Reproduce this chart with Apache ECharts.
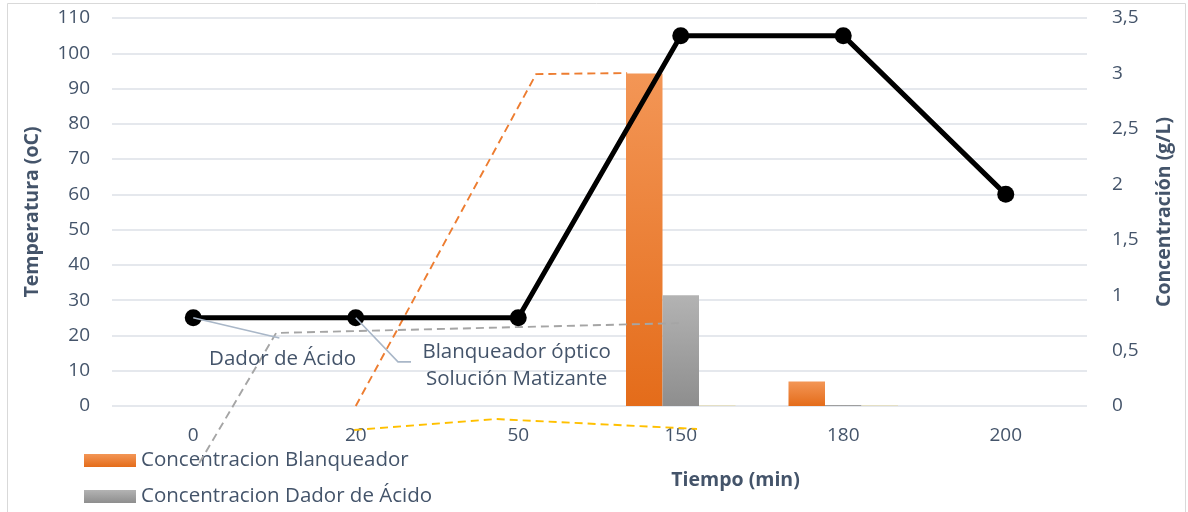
<!DOCTYPE html>
<html>
<head>
<meta charset="utf-8">
<script src="https://cdn.jsdelivr.net/npm/echarts@6/dist/echarts.min.js"></script>
<style>
  html, body { margin: 0; padding: 0; background: #fff; }
  #chart { width: 1188px; height: 512px; }
</style>
</head>
<body>
<div id="chart"></div>
<script>
// Process time (min) on the category axis
const categories = ['0', '20', '50', '150', '180', '200'];
// Bath temperature (oC), left axis
const temperature = [25, 25, 25, 105, 105, 60];
// Chemical concentrations (g/L), right axis
const blanqueador = [0, 0, 0, 3, 0.22, 0];
const dadorAcido = [0, 0, 0, 1, 0.01, 0];
const matizante = [0, 0, 0, 0.01, 0.01, 0];
// Axis tick settings
const tempTicks = { min: 0, max: 110, interval: 10 };
const concTicks = { min: 0, max: 3.5, interval: 0.5 };

const TEXT = '#44546A';
const FONT = 'Open Sans';

const chart = echarts.init(document.getElementById('chart'));

const grad = (top, bottom) => new echarts.graphic.LinearGradient(0, 0, 0, 1, [
  { offset: 0, color: top }, { offset: 1, color: bottom }
]);

// One legend block per row, stacked in the bottom-left corner
const legendRow = (name, top) => ({
  data: [name],
  left: 79,
  top,
  icon: 'rect',
  itemWidth: 52,
  itemHeight: 13,
  itemTextGap: 5,
  textStyle: { color: TEXT, fontSize: 20.5, fontFamily: FONT }
});

chart.setOption({
  animation: false,
  textStyle: { fontFamily: FONT },
  grid: { left: 112, right: 101, top: 18, bottom: 106 },
  legend: [
    legendRow('Concentracion Blanqueador', 445),
    legendRow('Concentracion Dador de Ácido', 481)
  ],
  xAxis: {
    type: 'category',
    data: categories,
    name: 'Tiempo (min)',
    nameLocation: 'middle',
    nameGap: 64,
    nameTextStyle: { color: TEXT, fontSize: 19.5, fontWeight: 'bold', fontFamily: FONT, padding: [0, 0, 0, 272] },
    axisLine: { show: false },
    axisTick: { show: false },
    axisLabel: { color: TEXT, fontSize: 19, margin: 20, fontFamily: FONT }
  },
  yAxis: [
    {
      type: 'value',
      min: tempTicks.min, max: tempTicks.max, interval: tempTicks.interval,
      name: 'Temperatura (oC)',
      nameLocation: 'middle',
      nameGap: 70,
      nameRotate: 90,
      nameTextStyle: { color: TEXT, fontSize: 19.5, fontWeight: 'bold', fontFamily: FONT },
      axisLine: { show: false },
      axisTick: { show: false },
      axisLabel: { color: TEXT, fontSize: 19, margin: 22, fontFamily: FONT },
      splitLine: { lineStyle: { color: '#DDE1E7', width: 1.5 } }
    },
    {
      type: 'value',
      min: concTicks.min, max: concTicks.max, interval: concTicks.interval,
      name: 'Concentración (g/L)',
      nameLocation: 'middle',
      nameGap: 67,
      nameRotate: 90,
      nameTextStyle: { color: TEXT, fontSize: 19.5, fontWeight: 'bold', fontFamily: FONT },
      axisLine: { show: false },
      axisTick: { show: false },
      axisLabel: {
        color: TEXT, fontSize: 19, margin: 25, fontFamily: FONT,
        formatter: v => String(v).replace('.', ',')
      },
      splitLine: { show: false }
    }
  ],
  series: [
    {
      name: 'Concentracion Blanqueador',
      type: 'bar',
      yAxisIndex: 1,
      data: blanqueador,
      barWidth: 36.5,
      barGap: '0%',
      itemStyle: { color: grad('#F39656', '#E46C1A') },
      z: 2
    },
    {
      name: 'Concentracion Dador de Ácido',
      type: 'bar',
      yAxisIndex: 1,
      data: dadorAcido,
      barWidth: 36.5,
      barGap: '0%',
      itemStyle: { color: grad('#B3B3B3', '#8E8E8E') },
      z: 2
    },
    {
      name: 'Concentracion Solución Matizante',
      type: 'bar',
      yAxisIndex: 1,
      data: matizante,
      barWidth: 36.5,
      barGap: '0%',
      itemStyle: { color: '#E4DFC4' },
      z: 2
    },
    {
      name: 'Temperatura',
      type: 'line',
      yAxisIndex: 0,
      data: temperature,
      symbol: 'circle',
      symbolSize: 17,
      lineStyle: { color: '#000', width: 5 },
      itemStyle: { color: '#000' },
      z: 5
    }
  ]
});

// Annotation layer: callout labels and their leader lines, positioned in
// band units (x, from category centres) and temperature values (y).
const c0 = chart.convertToPixel({ xAxisIndex: 0 }, 0);
const c1 = chart.convertToPixel({ xAxisIndex: 0 }, 1);
const band = c1 - c0;
const px = u => c0 + u * band;
const py = t => chart.convertToPixel({ yAxisIndex: 0 }, t);
const pt = (u, t) => [px(u), py(t)];

const dashed = (pts, color) => ({
  type: 'polyline',
  shape: { points: pts.map(p => pt(p[0], p[1])) },
  style: { stroke: color, lineWidth: 1.9, lineDash: [8, 5], fill: null },
  silent: true, z: 4
});
const leader = pts => ({
  type: 'polyline',
  shape: { points: pts.map(p => pt(p[0], p[1])) },
  style: { stroke: '#A9B7C8', lineWidth: 1.6, fill: null },
  silent: true, z: 6
});
const label = (u, t, text) => ({
  type: 'text',
  x: px(u), y: py(t),
  style: { text, fill: TEXT, font: '20.5px "' + FONT + '"', align: 'center', verticalAlign: 'middle' },
  silent: true, z: 6
});

chart.setOption({
  graphic: [
    {
      type: 'rect',
      shape: { x: 7.5, y: 3.5, width: 1178, height: 520 },
      style: { stroke: '#D9D9D9', lineWidth: 1, fill: null },
      silent: true, z: 0
    },
    dashed([[0.037, -16.2], [0.51, 20.7], [3.0, 23.5]], '#A5A5A5'),
    dashed([[1.0, 0], [2.11, 94.1], [2.67, 94.4]], '#ED7D31'),
    dashed([[0.99, -6.8], [1.865, -3.7], [3.1, -6.5]], '#FFC000'),
    leader([[0, 25], [0.53, 19.3]]),
    leader([[1, 25], [1.26, 12.5], [1.34, 12.5]]),
    label(0.55, 13.4, 'Dador de Ácido'),
    label(1.99, 15.3, 'Blanqueador óptico'),
    label(1.99, 7.6, 'Solución Matizante')
  ]
});
</script>
</body>
</html>
